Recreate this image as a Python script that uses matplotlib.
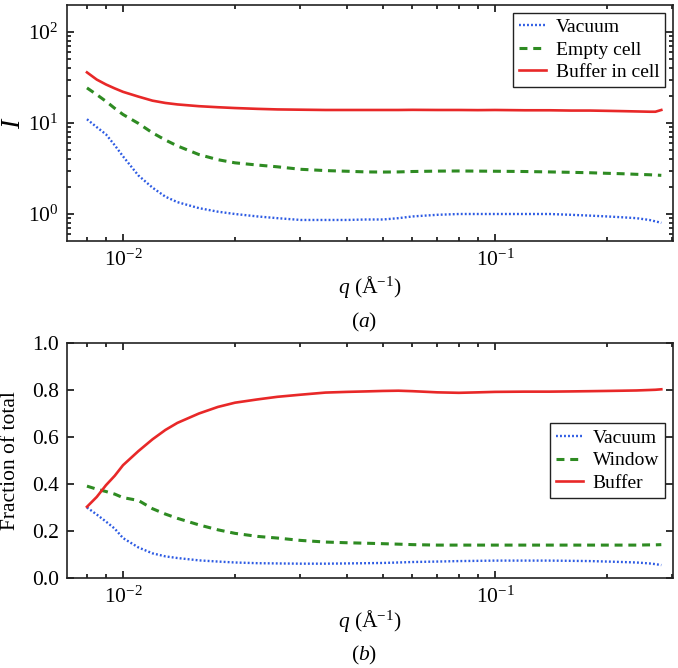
import matplotlib
matplotlib.use("Agg")
import matplotlib.pyplot as plt
from matplotlib.ticker import LogLocator, NullFormatter

plt.rcParams["font.family"] = ["Liberation Serif", "DejaVu Serif"]
plt.rcParams["mathtext.fontset"] = "custom"
plt.rcParams["mathtext.rm"] = "Liberation Serif"
plt.rcParams["mathtext.it"] = "Liberation Serif:italic"

# q grid (1/Angstrom), shared by all series
q = [0.008, 0.0085, 0.009, 0.0095, 0.010, 0.011, 0.012, 0.013, 0.014, 0.016,
     0.018, 0.020, 0.023, 0.026, 0.030, 0.035, 0.040, 0.045, 0.050, 0.055,
     0.060, 0.070, 0.080, 0.090, 0.10, 0.12, 0.14, 0.16, 0.18, 0.20,
     0.22, 0.24, 0.26, 0.27, 0.28]

# (a) intensities
vacuum_I = [11.0, 9.0, 7.5, 5.7, 4.3, 2.65, 1.95, 1.55, 1.35, 1.16,
            1.06, 1.0, 0.94, 0.90, 0.86, 0.86, 0.86, 0.87, 0.87, 0.90,
            0.94, 0.98, 1.0, 1.0, 1.0, 1.0, 1.0, 0.98, 0.96, 0.94,
            0.92, 0.90, 0.86, 0.83, 0.80]
empty_cell_I = [24.3, 20.5, 17.3, 14.5, 12.4, 9.9, 7.8, 6.5, 5.6, 4.5,
                3.95, 3.65, 3.45, 3.3, 3.1, 3.0, 2.95, 2.9, 2.89, 2.9,
                2.93, 2.96, 2.97, 2.96, 2.95, 2.93, 2.9, 2.87, 2.84, 2.8,
                2.77, 2.73, 2.7, 2.68, 2.66]
buffer_cell_I = [36.0, 30.0, 26.5, 24.0, 22.0, 19.5, 17.6, 16.6, 16.0, 15.3,
                 14.9, 14.6, 14.3, 14.1, 14.0, 13.9, 13.9, 13.9, 13.9, 13.9,
                 13.95, 13.9, 13.9, 13.85, 13.9, 13.8, 13.8, 13.7, 13.7, 13.6,
                 13.5, 13.4, 13.3, 13.3, 13.9]

# (b) fractions of total
vacuum_frac = [0.30, 0.27, 0.24, 0.21, 0.17, 0.13, 0.105, 0.092, 0.085, 0.075,
               0.070, 0.066, 0.063, 0.062, 0.061, 0.061, 0.062, 0.063, 0.064, 0.066,
               0.068, 0.070, 0.072, 0.073, 0.074, 0.074, 0.074, 0.073, 0.072, 0.070,
               0.068, 0.066, 0.062, 0.059, 0.055]
window_frac = [0.391, 0.378, 0.368, 0.357, 0.342, 0.33, 0.295, 0.272, 0.254, 0.226,
               0.205, 0.19, 0.177, 0.17, 0.16, 0.153, 0.15, 0.148, 0.146, 0.144,
               0.142, 0.14, 0.14, 0.14, 0.14, 0.14, 0.14, 0.14, 0.14, 0.14,
               0.14, 0.14, 0.141, 0.141, 0.142]
buffer_frac = [0.303, 0.345, 0.395, 0.435, 0.48, 0.54, 0.59, 0.63, 0.66, 0.70,
               0.728, 0.746, 0.76, 0.771, 0.78, 0.789, 0.792, 0.794, 0.796, 0.797,
               0.795, 0.79, 0.788, 0.79, 0.792, 0.793, 0.793, 0.794, 0.795, 0.796,
               0.797, 0.798, 0.80, 0.801, 0.803]

blue = "#2d5be3"
green = "#2e8b22"
red = "#e82828"
dot = (0, (0.8, 0.9))
dash = (0, (2.6, 1.9))

fig = plt.figure(figsize=(6.78, 6.68), dpi=100)
ax1 = fig.add_axes([67 / 678, 1 - 241 / 668, 606 / 678, 236 / 668])
ax2 = fig.add_axes([67 / 678, 1 - 578 / 668, 606 / 678, 235 / 668])

ax1.plot(q, vacuum_I, color=blue, ls=dot, lw=1.7, label="Vacuum")
ax1.plot(q, empty_cell_I, color=green, ls=dash, lw=2.2, label="Empty cell")
ax1.plot(q, buffer_cell_I, color=red, lw=1.9, label="Buffer in cell")
ax1.set_yscale("log")
ax1.set_ylim(0.505, 198)

ax2.plot(q, vacuum_frac, color=blue, ls=dot, lw=1.7, label="Vacuum")
ax2.plot(q, window_frac, color=green, ls=dash, lw=2.2, label="Window")
ax2.plot(q, buffer_frac, color=red, lw=1.9, label="Buffer")
ax2.set_ylim(0, 1.0)
ax2.set_yticks([0, 0.2, 0.4, 0.6, 0.8, 1.0])
ax2.set_yticklabels(["0.0", "0.2", "0.4", "0.6", "0.8", "1.0"])

for ax in (ax1, ax2):
    ax.set_xscale("log")
    ax.set_xlim(0.00707, 0.301)
    ax.xaxis.set_minor_locator(LogLocator(base=10, subs=range(2, 10)))
    ax.xaxis.set_minor_formatter(NullFormatter())
    ax.tick_params(which="both", direction="in", top=True, right=True,
                   labelsize=15.5, color="#222222", pad=6)
    ax.tick_params(which="major", length=5, width=1.3)
    ax.tick_params(which="minor", length=3, width=1.3)
    for s in ax.spines.values():
        s.set_linewidth(1.2)
        s.set_color("#222222")
    ax.set_xlabel("$q$ (Å$^{-1}$)", fontsize=15.5)
    ax.xaxis.label.set_va("center")

ax1.yaxis.set_minor_locator(LogLocator(base=10, subs=range(2, 10)))
ax1.yaxis.set_minor_formatter(NullFormatter())

ax1.xaxis.set_label_coords(0.5, (241 - 287) / 236)
ax2.xaxis.set_label_coords(0.5, (578 - 621) / 235)

ax1.set_ylabel("$I$", fontsize=20)
ax1.yaxis.label.set_va("center")
ax1.yaxis.set_label_coords((14 - 67) / 606, 0.5)
ax2.set_ylabel("Fraction of total", fontsize=15.5)
ax2.yaxis.label.set_va("center")
ax2.yaxis.set_label_coords((11 - 67) / 606, 0.5)

leg_kw = dict(fontsize=14, fancybox=False, framealpha=1, edgecolor="#222222",
              handlelength=1.4, handletextpad=0.5, labelspacing=0.25,
              borderpad=0.3, borderaxespad=0.4)
l1 = ax1.legend(loc="upper right", **leg_kw)
l2 = ax2.legend(loc="center right", **leg_kw)
for lg in (l1, l2):
    lg.get_frame().set_linewidth(1.0)

fig.text(364 / 678, 1 - 322 / 668, "($a$)", fontsize=15.5, ha="center", va="center")
fig.text(364 / 678, 1 - 655 / 668, "($b$)", fontsize=15.5, ha="center", va="center")

fig.savefig("out.png", dpi=100)
